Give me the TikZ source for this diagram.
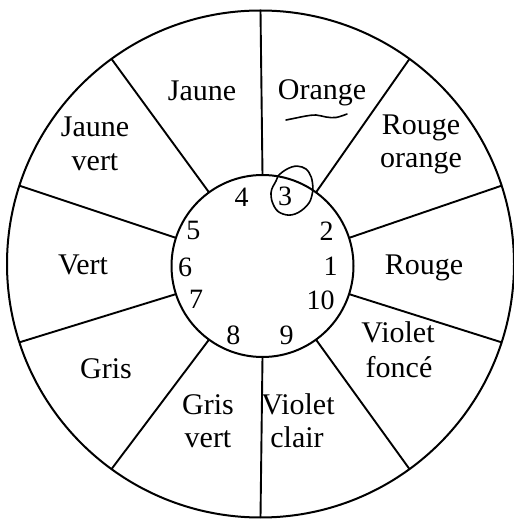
\documentclass[tikz,border=0pt]{standalone}
\usepackage{fontspec}
\setmainfont{Liberation Serif}
\begin{document}
\begin{tikzpicture}[x=1pt,y=1pt,
  ring/.style={draw, circle, inner sep=0pt, outer sep=0pt, line width=2pt},
  spoke/.style={line width=1.9pt},
  lbl/.style={anchor=base, inner sep=0pt, font=\fontsize{30}{33}\selectfont},
  num/.style={anchor=center, inner sep=0pt, font=\fontsize{28}{30}\selectfont},
  handmark/.style={line width=1.6pt, line cap=round}]
\useasboundingbox (0,0) rectangle (514,520);
\node[ring, minimum size=507pt] (outer) at (260.5,256) {};
\node[ring, minimum size=182pt] (inner) at (262.5,254) {};
\foreach \a in {90,54,18,-18,-54,-90,-126,-162,162,126}
  \draw[spoke] (inner.\a) -- (outer.\a);
% sector labels
\node[lbl] (jaune) at (202,419) {Jaune};
\node[lbl] (orange) at (322,420) {Orange};
\node[lbl] (jv1) at (95,383) {Jaune};
\node[lbl] (jv2) at (95,349) {vert};
\node[lbl] (ro1) at (421,385) {Rouge};
\node[lbl] (ro2) at (421,352) {orange};
\node[lbl] (rouge) at (424,245) {Rouge};
\node[lbl] (vf1) at (398,177) {Violet};
\node[lbl] (vf2) at (399,142) {foncé};
\node[lbl] (vc1) at (298,105) {Violet};
\node[lbl] (vc2) at (297,72) {clair};
\node[lbl] (gv1) at (208,105) {Gris};
\node[lbl] (gv2) at (208,72) {vert};
\node[lbl] (gris) at (106,141) {Gris};
\node[lbl] (vert) at (83,245) {Vert};
% numbers
\node[num] (n1) at (330.7,254) {1};
\node[num] (n2) at (326.7,288.3) {2};
\node[num] (n3) at (285,323.3) {3};
\node[num] (n4) at (241.7,322.7) {4};
\node[num] (n5) at (193.3,289.3) {5};
\node[num] (n6) at (185,252.7) {6};
\node[num] (n7) at (196,220.7) {7};
\node[num] (n8) at (233.3,185) {8};
\node[num] (n9) at (286.7,185) {9};
\node[num] (n10) at (320.7,220) {10};
% hand marks
\draw[handmark] plot[smooth cycle, tension=0.7] coordinates {(280,346) (291.7,353) (302,353) (309,347.5) (312.5,337) (312,325) (307,314.5) (295,306) (283,306) (274.5,313) (271,327) (276,339)};
\draw[handmark] plot[smooth, tension=0.6] coordinates {(286,400) (296,402) (306,404) (316,405) (326,403) (336,402.5) (347,406)};
\end{tikzpicture}
\end{document}
